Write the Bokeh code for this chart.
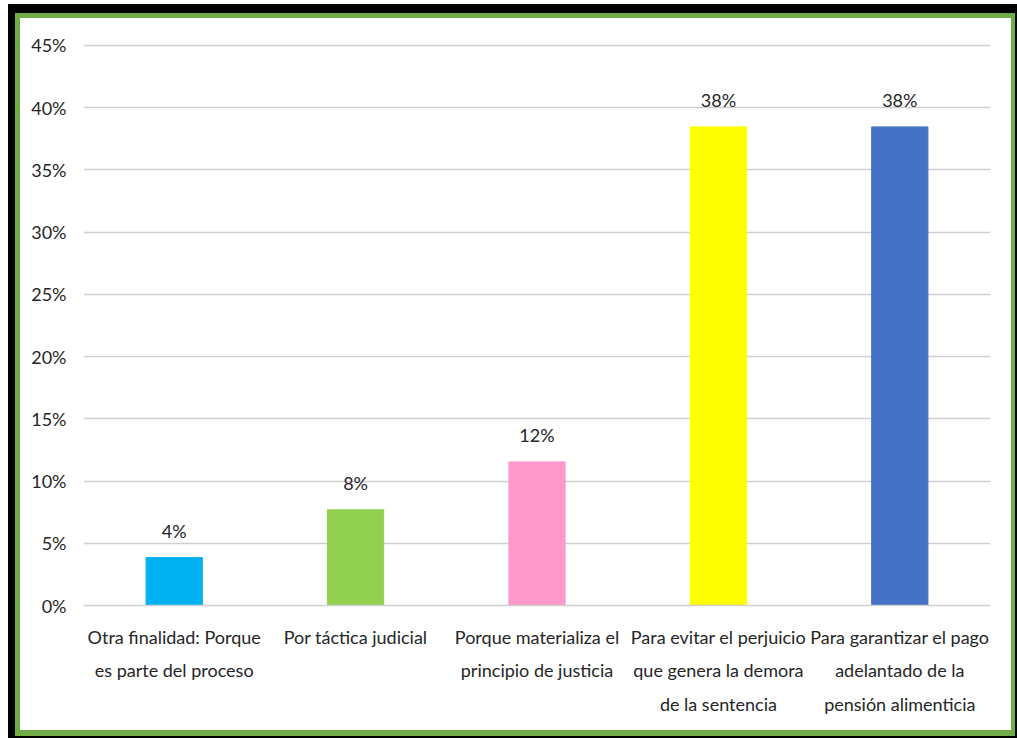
from bokeh.plotting import figure
from bokeh.models import ColumnDataSource, Range1d, FixedTicker, NumeralTickFormatter
from bokeh.layouts import column
from bokeh.core.properties import value
from bokeh.embed import file_html
from bokeh.resources import INLINE

categories = [
    "Otra finalidad: Porque\nes parte del proceso",
    "Por táctica judicial",
    "Porque materializa el\nprincipio de justicia",
    "Para evitar el perjuicio\nque genera la demora\nde la sentencia",
    "Para garantizar el pago\nadelantado de la\npensión alimenticia",
]
values = [0.0385, 0.0769, 0.1154, 0.3846, 0.3846]
colors = ["#00B0F0", "#92D050", "#FF99CC", "#FFFF00", "#4472C4"]
y_ticks = [0.0, 0.05, 0.10, 0.15, 0.20, 0.25, 0.30, 0.35, 0.40, 0.45]

labels = [f"{round(v * 100)}%" for v in values]
src = ColumnDataSource(dict(cat=categories, val=values, color=colors, label=labels))

FONT = "Lato"
TXT = "#262626"
FS = "18px"

p = figure(x_range=categories, y_range=Range1d(0, 0.4516), width=991, height=712,
           output_backend="svg", toolbar_location=None,
           min_border_left=63, min_border_right=21, min_border_top=25, min_border_bottom=125,
           background_fill_color="white", border_fill_color="white")
p.outline_line_color = None

p.vbar(x="cat", top="val", width=0.31, color="color", source=src)
p.text(x="cat", y="val", text="label", source=src, text_align="center",
       text_baseline="middle", y_offset=-27, text_font=value(FONT),
       text_font_size=FS, text_color=TXT)

p.yaxis.ticker = FixedTicker(ticks=y_ticks)
p.yaxis.formatter = NumeralTickFormatter(format="0%")
p.yaxis.axis_line_color = None
p.yaxis.major_tick_line_color = None
p.yaxis.minor_tick_line_color = None
p.yaxis.major_label_standoff = 11
p.yaxis.major_label_text_font = FONT
p.yaxis.major_label_text_font_size = FS
p.yaxis.major_label_text_color = TXT

p.xaxis.axis_line_color = "#d0d0d0"
p.xaxis.axis_line_width = 1.5
p.xaxis.major_tick_line_color = None
p.xaxis.minor_tick_line_color = None
p.xaxis.major_label_standoff = 14
p.xaxis.major_label_text_font = FONT
p.xaxis.major_label_text_font_size = FS
p.xaxis.major_label_text_color = TXT
p.xaxis.major_label_text_line_height = 1.53

p.xgrid.grid_line_color = None
p.ygrid.grid_line_color = "#d0d0d0"
p.ygrid.grid_line_width = 1.5

inner = column(p, styles={"background-color": "white", "border-style": "solid",
                          "border-color": "#70AD47", "border-width": "5px 4px 6px 5px"})
outer = column(inner, styles={"background-color": "black", "padding": "9px 2px 2px 7px",
                              "margin": "4px 0px 0px 8px"})

open("out.html", "w").write(file_html(outer, INLINE))
